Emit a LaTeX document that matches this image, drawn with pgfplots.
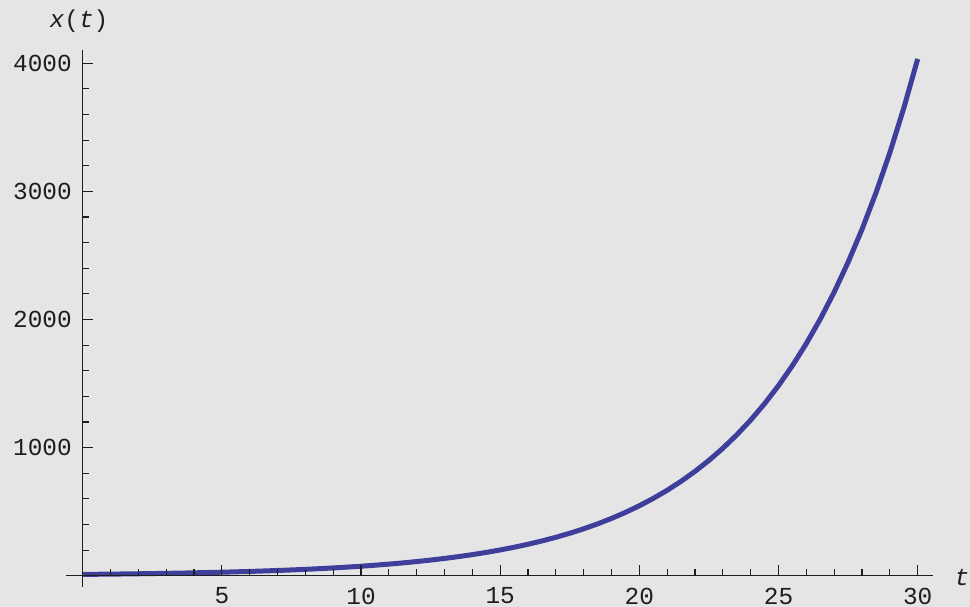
\documentclass[border=0pt]{standalone}
\usepackage{fontspec}
\setmainfont{Liberation Mono}
\usepackage{pgfplots}
\pgfplotsset{compat=1.18}
\definecolor{bg}{RGB}{229,229,229}
\definecolor{curve}{RGB}{62,62,155}
\definecolor{axcol}{RGB}{30,30,30}

\pgfplotstableread{
t x
0 10.000
0.5 11.052
1 12.214
1.5 13.499
2 14.918
2.5 16.487
3 18.221
3.5 20.138
4 22.255
4.5 24.596
5 27.183
5.5 30.042
6 33.201
6.5 36.693
7 40.552
7.5 44.817
8 49.530
8.5 54.739
9 60.496
9.5 66.859
10 73.891
10.5 81.662
11 90.250
11.5 99.742
12 110.23
12.5 121.82
13 134.64
13.5 148.80
14 164.45
14.5 181.74
15 200.86
15.5 221.98
16 245.33
16.5 271.13
17 299.65
17.5 331.16
18 365.99
18.5 404.48
19 447.03
19.5 494.02
20 545.98
20.5 603.40
21 666.86
21.5 736.98
22 814.51
22.5 900.17
23 994.85
23.5 1099.47
24 1215.10
24.5 1342.91
25 1484.13
25.5 1640.26
26 1812.72
26.5 2003.43
27 2214.06
27.5 2446.95
28 2704.26
28.5 2988.70
29 3303.00
29.5 3650.40
30 4034.29
}\growth

\begin{document}
\begin{tikzpicture}
\fill[bg] (-66bp,-20.3bp) rectangle (904bp,586.7bp);
\path[use as bounding box] (-66bp,-20.3bp) rectangle (904bp,586.7bp);
\begin{axis}[
  at={(0,0)}, anchor=south west,
  scale only axis,
  width=867bp, height=536.7bp,
  xmin=-0.6, xmax=30.55,
  ymin=-86, ymax=4104,
  axis lines=middle,
  axis on top,
  axis line style={axcol, line width=1.2bp, -},
  xtick={5,10,...,30},
  ytick={1000,2000,3000,4000},
  minor xtick={1,2,3,4,6,7,8,9,11,12,13,14,16,17,18,19,21,22,23,24,26,27,28,29},
  minor ytick={200,400,600,800,1200,1400,1600,1800,2200,2400,2600,2800,3200,3400,3600,3800},
  tick align=inside,
  major tick length=10.5bp,
  minor tick length=6.5bp,
  tick style={axcol, line width=1.1bp},
  /pgf/number format/assume math mode=true,
  /pgf/number format/set thousands separator={},
  ticklabel style={font=\fontsize{24.5}{24.5}\selectfont, text=axcol, inner sep=0pt},
  xticklabel style={anchor=north, yshift=-11.8bp},
  yticklabel style={anchor=east, xshift=-10.7bp},
  xlabel={\itshape t},
  ylabel={\itshape x\upshape(\itshape t\upshape)},
  label style={font=\fontsize{24.5}{24.5}\selectfont, text=axcol, inner sep=0pt},
  xlabel style={at={(axis description cs:1.0335,0.018)}, anchor=center},
  ylabel style={at={(axis description cs:0.015,1.054)}, anchor=center, rotate=0},
  clip=false,
]
\addplot[curve, line width=5bp, line cap=butt, line join=round] table[x=t, y=x] {\growth};
\end{axis}
\end{tikzpicture}
\end{document}
